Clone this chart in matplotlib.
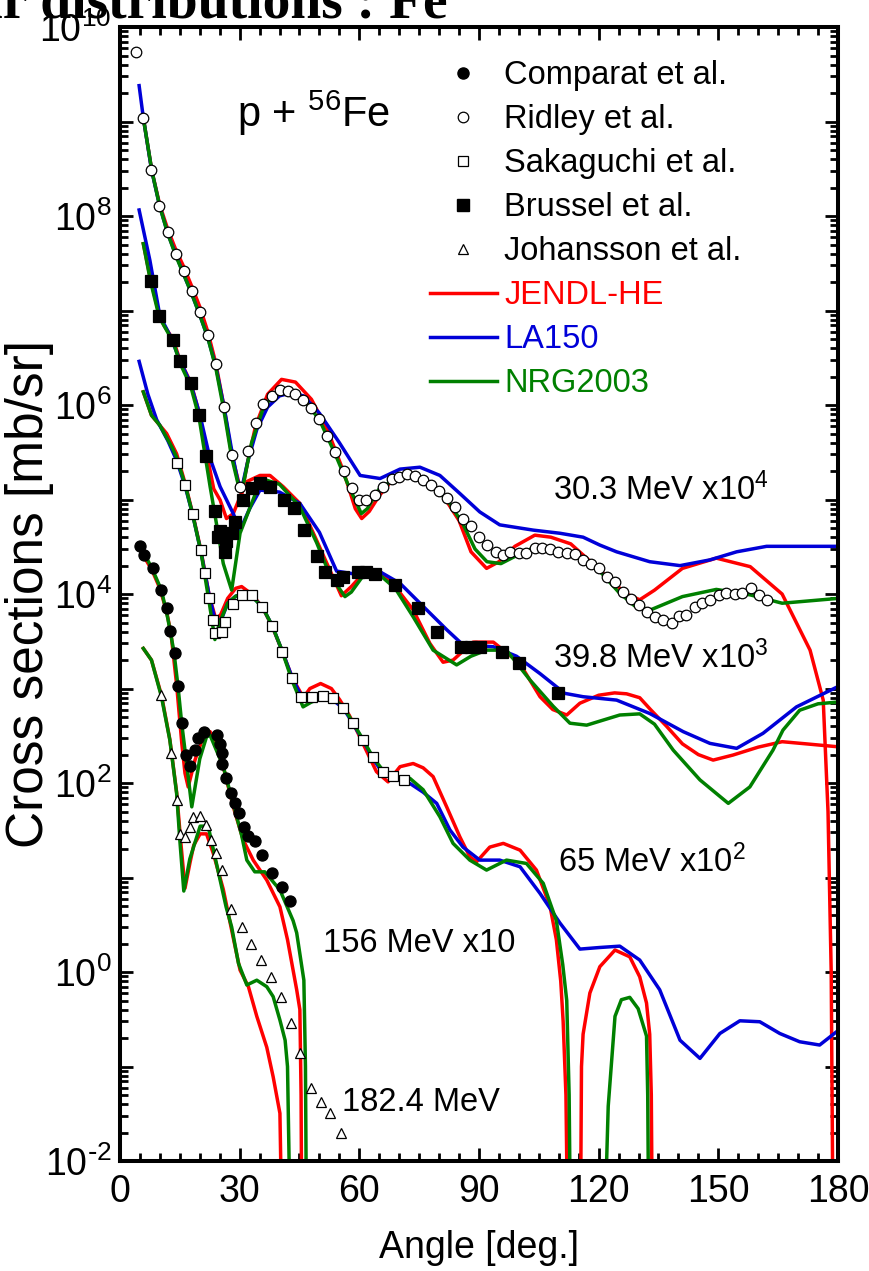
import math

import matplotlib
matplotlib.use("Agg")
import matplotlib.pyplot as plt
from matplotlib import font_manager
from matplotlib.lines import Line2D
from matplotlib.ticker import LogLocator, FuncFormatter, MultipleLocator, NullFormatter

_names = {f.name for f in font_manager.fontManager.ttflist}
NARROW = "Liberation Sans Narrow" if "Liberation Sans Narrow" in _names else "Liberation Sans"

plt.rcParams["font.family"] = ["Liberation Sans", "DejaVu Sans"]
plt.rcParams["mathtext.default"] = "regular"
plt.rcParams["axes.unicode_minus"] = False

RED, BLUE, GREEN = "#ff0000", "#0000d8", "#008000"

# ---- experimental data (angle [deg], cross section [mb/sr], already scaled) ----
# Ridley et al., 30.3 MeV x1e4
ridley_ang = [3.9, 5.85, 7.9, 9.9, 12.0, 14.0, 16.0, 18.0, 20.0, 22.0, 24.0, 26.1, 28.1, 30.1,
              32.2, 34.0, 35.9, 38.0, 40.1, 42.0, 44.0, 45.9, 47.9, 49.9, 52.0, 54.0, 56.1, 58.1,
              60.0, 61.8, 63.9, 66.0, 68.1, 70.0, 72.0, 73.9, 76.0, 77.9, 80.0, 81.9, 84.0, 86.0,
              88.1, 90.1, 92.1, 94.2, 96.1, 97.9, 100.1, 101.9, 104.0, 105.9, 107.9, 109.9, 112.0,
              114.0, 116.1, 118.2, 120.1, 122.1, 124.1, 126.1, 128.1, 130.2, 132.2, 134.1, 136.2,
              138.3, 140.1, 142.0, 144.1, 146.0, 148.0, 150.1, 152.0, 154.1, 156.0, 158.1, 160.2, 162.1]
ridley_xs = [5.4e9, 1.08e9, 3.1e8, 1.28e8, 6.8e7, 4.0e7, 2.6e7, 1.6e7, 9.7e6, 5.5e6, 2.7e6, 9.6e5,
             2.96e5, 1.35e5, 3.26e5, 6.4e5, 1.02e6, 1.24e6, 1.44e6, 1.41e6, 1.30e6, 1.13e6, 9.2e5,
             7.1e5, 4.7e5, 3.2e5, 2.0e5, 1.32e5, 9.9e4, 1.0e5, 1.12e5, 1.37e5, 1.64e5, 1.74e5, 1.86e5,
             1.77e5, 1.61e5, 1.42e5, 1.24e5, 1.03e5, 8.4e4, 6.3e4, 5.2e4, 4.0e4, 3.3e4, 2.8e4, 2.6e4,
             2.76e4, 2.7e4, 2.7e4, 3.05e4, 3.1e4, 3.0e4, 2.8e4, 2.7e4, 2.65e4, 2.3e4, 2.1e4, 1.87e4,
             1.52e4, 1.35e4, 1.06e4, 8.8e3, 7.7e3, 6.5e3, 5.7e3, 5.3e3, 5.0e3, 5.8e3, 6.0e3, 7.3e3,
             8.0e3, 8.6e3, 9.8e3, 1.03e4, 1.0e4, 1.03e4, 1.15e4, 9.8e3, 8.6e3]

# Brussel et al., 39.8 MeV x1e3
brussel_ang = [7.7, 9.85, 13.4, 15.0, 17.7, 19.8, 21.6, 23.8, 24.6, 25.1, 26.3, 26.7, 28.0, 28.8,
               30.9, 33.0, 35.1, 37.6, 41.1, 43.7, 46.2, 49.3, 51.4, 54.3, 56.0, 59.7, 61.8, 63.9,
               68.9, 74.8, 79.4, 85.6, 88.1, 90.2, 95.7, 100.1, 109.9]
brussel_xs = [2.05e7, 8.7e6, 4.9e6, 2.9e6, 1.7e6, 7.8e5, 2.9e5, 7.5e4, 4.0e4, 4.7e4, 2.8e4, 3.6e4,
              4.4e4, 5.8e4, 9.9e4, 1.32e5, 1.5e5, 1.36e5, 1.0e5, 8.1e4, 4.8e4, 2.5e4, 1.72e4, 1.4e4,
              1.52e4, 1.72e4, 1.72e4, 1.63e4, 1.25e4, 7.1e3, 4.0e3, 2.77e3, 2.77e3, 2.77e3, 2.45e3,
              1.88e3, 890]

# Sakaguchi et al., 65 MeV x1e2
sakaguchi_ang = [14.2, 16.3, 18.2, 20.3, 21.4, 22.4, 23.4, 23.8, 25.5, 26.3, 28.4, 30.5, 33.0, 35.7,
                 38.2, 40.5, 43.2, 45.5, 48.2, 50.8, 53.3, 56.0, 58.5, 61.0, 63.5, 66.0, 68.5, 71.2]
sakaguchi_xs = [2.45e5, 1.42e5, 7.1e4, 2.9e4, 1.66e4, 9.1e3, 5.3e3, 3.9e3, 4.0e3, 5.1e3, 7.8e3, 9.8e3,
                9.8e3, 7.3e3, 4.6e3, 2.45e3, 1.28e3, 820, 810, 830, 790, 630, 435, 285, 190, 132, 119, 109]

# Comparat et al., 156 MeV x10
comparat_ang = [5.0, 6.0, 8.2, 10.4, 11.7, 12.5, 13.8, 14.5, 15.5, 16.5, 17.5, 18.8, 19.6, 21.1, 24.4,
                25.2, 25.6, 25.7, 26.6, 27.8, 28.8, 29.9, 31.1, 32.2, 33.8, 35.5, 38.2, 40.5, 42.6]
comparat_xs = [3.2e4, 2.6e4, 1.87e4, 1.1e4, 7.2e3, 4.1e3, 2.36e3, 1.07e3, 429, 198, 151, 223, 297, 350,
               322, 257, 206, 159, 112, 79, 62, 48, 34, 27.5, 24.5, 17.3, 11.1, 8.0, 5.6]

# Johansson et al., 182.4 MeV
johansson_ang = [10.2, 12.7, 14.2, 15.0, 16.3, 17.5, 18.4, 20.1, 21.6, 22.8, 24.0, 25.5, 27.8, 30.5,
                 32.8, 35.3, 37.8, 40.3, 42.8, 45.1, 47.8, 50.3, 52.6, 55.3]
johansson_xs = [853, 206, 66, 29, 27, 34.5, 44, 45, 36, 25, 18, 12, 4.7, 3.0, 2.0, 1.33, 0.89, 0.55,
                0.29, 0.14, 0.059, 0.042, 0.032, 0.020]

# ---- evaluated data ----
jendl_303_ang = [6.0, 8, 10, 12, 14, 16, 18, 20, 22, 24, 26, 28, 30.5, 32, 34, 37, 40.5, 44, 48, 52, 56,
                 59, 60.6, 62.5, 65, 69, 73, 77, 81, 85, 88, 91.9, 95, 99, 104, 108, 113, 118, 123, 127,
                 130.3, 134, 141, 149.5, 158, 166, 173, 176.3, 177.5, 178.3, 178.8]
jendl_303_xs = [1.0e9, 3.0e8, 1.3e8, 7.2e7, 4.4e7, 2.9e7, 1.8e7, 1.1e7, 6.0e6, 2.8e6, 1.0e6, 3.0e5,
                1.15e5, 2.5e5, 6.0e5, 1.3e6, 1.87e6, 1.75e6, 1.15e6, 5.5e5, 2.0e5, 8.0e4, 6.3e4, 7.5e4,
                1.1e5, 1.75e5, 1.9e5, 1.6e5, 1.1e5, 6.0e4, 2.8e4, 1.87e4, 2.2e4, 3.2e4, 4.2e4, 4.0e4,
                3.4e4, 2.2e4, 1.4e4, 1.0e4, 8.7e3, 1.1e4, 1.87e4, 2.4e4, 1.95e4, 1.0e4, 2.55e3, 755,
                50, 1, 1e-3]
la150_303_ang = [4.8, 5.85, 7.9, 9.9, 12, 14, 16, 18, 20, 22, 24, 26, 28.2, 29.5, 30.5, 32, 34.3, 37,
                 40, 43, 46, 50, 55, 60.2, 65.2, 70.2, 75.2, 80.2, 85.2, 90.2, 95.2, 103.6, 110.3,
                 116.1, 120.3, 124.5, 132.8, 140.4, 147.9, 154.6, 162.1, 180]
la150_303_xs = [2.4e9, 1.1e9, 3.1e8, 1.3e8, 6.5e7, 3.9e7, 2.4e7, 1.5e7, 9.0e6, 5.2e6, 2.6e6, 1.0e6,
                3.0e5, 1.6e5, 1.3e5, 2.5e5, 5.5e5, 9.5e5, 1.25e6, 1.35e6, 1.25e6, 8.2e5, 4.0e5, 1.8e5,
                1.67e5, 2.1e5, 2.2e5, 1.8e5, 1.16e5, 7.4e4, 5.4e4, 4.75e4, 4.4e4, 4.0e4, 3.3e4, 2.8e4,
                2.2e4, 2.0e4, 2.3e4, 2.8e4, 3.2e4, 3.2e4]
nrg_303_ang = [6.0, 8, 10, 12, 14, 16, 18, 20, 22, 24, 26, 28, 30, 31, 33, 36, 40, 43, 46, 50, 54, 57,
               60.5, 62, 65, 70, 74, 78, 82, 86, 89, 92, 95.5, 99, 103, 107, 112, 116, 120, 125, 129,
               133, 141, 149.5, 158, 166, 180]
nrg_303_xs = [1.0e9, 3.0e8, 1.25e8, 6.5e7, 3.8e7, 2.4e7, 1.5e7, 9.0e6, 5.2e6, 2.5e6, 9.0e5, 2.8e5,
              1.25e5, 1.5e5, 4.0e5, 9.5e5, 1.5e6, 1.45e6, 1.15e6, 7.0e5, 3.0e5, 1.5e5, 7.1e4, 8.0e4,
              1.3e5, 1.75e5, 1.78e5, 1.4e5, 1.0e5, 5.5e4, 3.0e4, 2.2e4, 2.1e4, 2.5e4, 3.0e4, 3.0e4,
              2.7e4, 2.3e4, 1.8e4, 1.05e4, 7.5e3, 6.8e3, 9.4e3, 1.12e4, 9.8e3, 8.0e3, 9.0e3]

jendl_398_ang = [5.85, 7.7, 9.85, 11, 13.4, 15, 17.7, 19.8, 21.6, 23.5, 25.1, 26.7, 28.4, 30.1, 31.8,
                 35.1, 37.6, 40.9, 45.1, 49.3, 52.6, 55.5, 58, 61.8, 65.2, 69, 73.5, 77.7, 81, 83.5,
                 88.5, 93.6, 100.2, 105.3, 108.5, 112, 115.3, 120, 124, 127, 130.3, 133, 137, 141, 145,
                 148.7, 153.7, 160, 166, 172, 180]
jendl_398_xs = [5.1e7, 2.1e7, 9.0e6, 7.0e6, 4.9e6, 3.0e6, 1.75e6, 8.5e5, 3.3e5, 1.3e5, 9.9e4, 6.3e4,
                7.1e4, 1.07e5, 1.55e5, 1.8e5, 1.8e5, 1.37e5, 9.1e4, 3.7e4, 1.8e4, 9.6e3, 1.2e4, 1.8e4,
                1.72e4, 1.2e4, 6.8e3, 3.0e3, 1.9e3, 2.0e3, 3.1e3, 3.1e3, 1.85e3, 820, 600, 525, 700,
                850, 900, 880, 800, 600, 400, 260, 200, 175, 198, 240, 274, 260, 242]
la150_398_ang = [4.8, 7.5, 10, 12.5, 15, 17.7, 20, 22.5, 25.1, 28.4, 30.1, 32.5, 35.1, 40, 45.1, 50,
                 54.3, 60, 65.2, 70.2, 76.9, 81.9, 86, 93.6, 99.4, 105.3, 111.5, 116.1, 124.5, 132.8,
                 141.2, 147.9, 154.6, 161.2, 169.6, 180]
la150_398_xs = [1.16e8, 3.4e7, 8.8e6, 5.5e6, 3.0e6, 1.7e6, 8.0e5, 2.8e5, 1.37e5, 7.1e4, 4.75e4, 8.0e4,
                1.26e5, 1.2e5, 9.1e4, 4.5e4, 1.75e4, 1.6e4, 1.72e4, 1.3e4, 6.8e3, 4.2e3, 2.9e3, 2.77e3,
                2.2e3, 1.44e3, 890, 820, 755, 545, 350, 263, 233, 336, 640, 1.05e3]
nrg_398_ang = [5.85, 7.7, 9.85, 13.4, 15, 17.7, 19.8, 22.6, 25.9, 28, 30.1, 34.3, 36.8, 40, 45, 49.3,
               52.6, 56.4, 58, 61.8, 65.2, 69, 73.5, 78.5, 84.4, 88, 91.9, 96.9, 102.8, 108.6, 112.8,
               117, 125.3, 130.3, 134, 138.7, 145.4, 152.5, 157.9, 163.7, 166.2, 170.4, 175, 180]
nrg_398_xs = [5.1e7, 2.0e7, 8.5e6, 4.6e6, 2.8e6, 1.6e6, 7.5e5, 1.37e5, 2.1e4, 1.1e4, 4.4e4, 1.26e5,
              1.6e5, 1.45e5, 8.5e4, 3.5e4, 1.6e4, 9.4e3, 1.05e4, 1.75e4, 1.58e4, 1.15e4, 5.75e3, 2.55e3,
              1.78e3, 2.2e3, 2.55e3, 2.55e3, 1.23e3, 650, 430, 410, 525, 540, 420, 223, 108, 61, 91,
              223, 363, 590, 690, 720]

jendl_65_ang = [5.85, 7.9, 10, 11.7, 14.2, 16.3, 18.2, 20.3, 22.4, 24, 25.2, 27, 29, 30.5, 33, 35.7,
                38.2, 40.5, 43.2, 46, 47.6, 50.3, 53, 55.1, 57.5, 59.7, 62, 64.3, 67.2, 70.2, 73.5, 76,
                78.5, 81.9, 85.2, 87.7, 89.4, 92.7, 96.1, 100.3, 104.4, 107.8, 109.4, 110.5, 111.1,
                111.8, 112.3, 115.4, 115.7, 116.1, 117.8, 120.3, 124.1, 127.8, 130.3, 132, 132.8, 133.2,
                133.5]
jendl_65_xs = [1.38e6, 7.8e5, 6.1e5, 5.0e5, 3.05e5, 1.5e5, 7.2e4, 2.9e4, 9.5e3, 5.5e3, 6.0e3, 9.0e3,
               1.15e4, 1.2e4, 1.0e4, 7.3e3, 4.5e3, 2.6e3, 1.3e3, 800, 1.0e3, 1.13e3, 1.0e3, 760, 520,
               336, 210, 132, 103, 149, 161, 145, 117, 56, 27, 16.6, 14.7, 21, 23, 19.5, 12, 5.0, 2.2,
               0.8, 0.3, 0.05, 1e-3, 1e-3, 0.1, 0.22, 0.6, 1.14, 1.71, 1.45, 0.89, 0.47, 0.22, 0.05,
               1e-3]
la150_65_ang = [4.8, 7, 9.2, 12, 14.2, 16.3, 18.2, 20.3, 22.4, 24, 25.5, 27, 29, 31, 33, 35.7, 38.2,
                40.5, 43.2, 45.5, 48, 50.5, 53.3, 56, 58.5, 61, 63.5, 66, 69, 72.7, 76, 79.4, 82.7, 86,
                90.2, 95.2, 100.3, 105.3, 110.3, 115.3, 120.3, 125.3, 130.3, 135.3, 140.4, 145.4, 150.4,
                155.4, 160.4, 165.4, 170.4, 175.4, 180]
la150_65_xs = [2.9e6, 1.3e6, 7.0e5, 4.2e5, 2.6e5, 1.4e5, 7.0e4, 2.8e4, 9.5e3, 5.0e3, 5.5e3, 8.0e3,
               9.5e3, 1.0e4, 9.6e3, 7.3e3, 4.6e3, 2.6e3, 1.3e3, 820, 760, 790, 760, 620, 420, 280, 180,
               125, 110, 99, 80, 61, 32, 21, 15.3, 15.3, 13, 6.8, 3.3, 1.75, 1.82, 1.88, 1.34, 0.65,
               0.19, 0.122, 0.224, 0.305, 0.298, 0.224, 0.183, 0.169, 0.24]
nrg_65_ang = [5.85, 7.9, 10, 13, 14.2, 16.3, 18.2, 20.3, 22.4, 23.8, 25, 27, 29, 31, 33, 35.7, 38.2,
              40.5, 43.2, 45.9, 48, 50.5, 53.4, 56, 58.5, 61, 63.5, 66, 69, 72.7, 76, 80.2, 83.5, 87.7,
              91.9, 96.9, 101.9, 106.1, 109.4, 111, 112, 112.6, 113, 121.5, 122, 122.4, 124.1, 125.7,
              127.8, 129.9, 132, 132.3, 132.6]
nrg_65_xs = [1.38e6, 7.8e5, 6.1e5, 3.6e5, 2.8e5, 1.45e5, 7.0e4, 2.8e4, 8.0e3, 3.3e3, 5.0e3, 8.0e3,
             9.5e3, 1.0e4, 9.5e3, 7.3e3, 4.6e3, 2.6e3, 1.2e3, 640, 720, 790, 790, 640, 430, 285, 185,
             135, 118, 112, 85, 44, 23, 15.3, 12, 15.3, 14.1, 8.7, 3.5, 1.2, 0.5, 0.05, 1e-3, 1e-3,
             0.01, 0.038, 0.34, 0.51, 0.54, 0.41, 0.21, 0.05, 1e-3]

jendl_156_ang = [6.0, 8, 10, 11.7, 12.8, 14.2, 15.5, 16.3, 17.1, 18.8, 20.9, 22.6, 25.9, 28.4, 30.9,
                 33.4, 36.8, 40.1, 42, 44.3, 45.1, 45.4, 45.6]
jendl_156_xs = [2.5e4, 1.8e4, 1.15e4, 6.5e3, 3.8e3, 1.1e3, 263, 127, 91, 175, 309, 350, 149, 56, 25,
                15.3, 9.4, 4.9, 2.2, 0.65, 0.40, 0.05, 1e-3]
nrg_156_ang = [6.7, 8.2, 10.4, 12, 13.5, 14.5, 15.5, 16.5, 18.0, 20, 21.7, 22.6, 25.9, 28.4, 30.5, 31.8,
               33.8, 36.3, 40.1, 43.4, 44.3, 46.1, 46.5, 46.8]
nrg_156_xs = [2.4e4, 1.8e4, 1.1e4, 5.5e3, 2.5e3, 1.1e3, 420, 190, 56, 180, 309, 320, 149, 60, 28, 15.3,
              11.5, 11.5, 7.4, 3.5, 2.6, 0.82, 0.1, 1e-3]

jendl_182_ang = [5.85, 7.9, 10.4, 12.5, 14.2, 15.2, 16.3, 17.5, 18.5, 20.1, 21.7, 23.4, 25.9, 28.4,
                 30.1, 32.2, 34.3, 36.8, 38.4, 40.1, 40.3, 40.4]
jendl_182_xs = [2.66e3, 2.0e3, 850, 290, 80, 25, 7.7, 14, 22, 29, 29, 18, 7.5, 2.3, 1.05, 0.7, 0.34,
                0.16, 0.078, 0.032, 0.01, 1e-3]
nrg_182_ang = [5.85, 7.9, 10.4, 12.5, 14.2, 15.0, 16.0, 17.5, 20.1, 22.1, 24.2, 26.6, 28.0, 29.7, 31.8,
               34.3, 36.8, 38.4, 40.1, 41.4, 42.0, 42.4, 42.6]
nrg_182_xs = [2.66e3, 2.0e3, 820, 285, 78, 25, 7.2, 15.7, 35, 35, 14, 4.9, 3.0, 1.24, 0.73, 0.82, 0.70,
              0.55, 0.31, 0.19, 0.1, 0.01, 1e-3]

fig = plt.figure(figsize=(8.7, 12.71), dpi=100)
ax = fig.add_axes([0.1379, 0.0865, 0.8253, 0.8922])

lw = 2.5
for a, s in [(jendl_303_ang, jendl_303_xs), (jendl_398_ang, jendl_398_xs), (jendl_65_ang, jendl_65_xs),
             (jendl_156_ang, jendl_156_xs), (jendl_182_ang, jendl_182_xs)]:
    ax.plot(a, s, color=RED, lw=lw, zorder=2)
for a, s in [(la150_303_ang, la150_303_xs), (la150_398_ang, la150_398_xs), (la150_65_ang, la150_65_xs)]:
    ax.plot(a, s, color=BLUE, lw=lw, zorder=2.1)
for a, s in [(nrg_303_ang, nrg_303_xs), (nrg_398_ang, nrg_398_xs), (nrg_65_ang, nrg_65_xs),
             (nrg_156_ang, nrg_156_xs), (nrg_182_ang, nrg_182_xs)]:
    ax.plot(a, s, color=GREEN, lw=lw, zorder=2.2)

mew = 0.9
ax.plot(comparat_ang, comparat_xs, ls="none", marker="o", ms=8, mfc="k", mec="k", mew=mew, zorder=3)
ax.plot(ridley_ang, ridley_xs, ls="none", marker="o", ms=7.6, mfc="w", mec="k", mew=mew, zorder=3)
ax.plot(sakaguchi_ang, sakaguchi_xs, ls="none", marker="s", ms=7.8, mfc="w", mec="k", mew=mew, zorder=3)
ax.plot(brussel_ang, brussel_xs, ls="none", marker="s", ms=9, mfc="k", mec="k", mew=mew, zorder=3)
ax.plot(johansson_ang, johansson_xs, ls="none", marker="^", ms=7.4, mfc="w", mec="k", mew=mew, zorder=3)

ax.set_xlim(0, 180)
ax.set_yscale("log")
ax.set_ylim(1e-2, 1e10)

ax.xaxis.set_major_locator(MultipleLocator(30))
ax.xaxis.set_minor_locator(MultipleLocator(5))
ax.yaxis.set_major_locator(LogLocator(base=10, numticks=30))
ax.yaxis.set_minor_locator(LogLocator(base=10, subs=range(2, 10), numticks=30))
ax.yaxis.set_minor_formatter(NullFormatter())


def _ylab(v, pos):
    # every second decade is labelled; plain hyphen for negative exponents
    e = int(round(math.log10(v)))
    if e % 2:
        return ""
    exp = r"\text{-}%d" % -e if e < 0 else "%d" % e
    return r"$\mathdefault{10^{%s}}$" % exp


ax.yaxis.set_major_formatter(FuncFormatter(_ylab))

ax.tick_params(which="both", direction="in", top=True, right=True, width=2.0)
ax.tick_params(which="major", length=9.5)
ax.tick_params(which="minor", length=5.5)
ax.tick_params(axis="x", which="major", pad=9)
ax.tick_params(axis="y", which="major", pad=6)
for lab in ax.get_xticklabels() + ax.get_yticklabels():
    lab.set_fontfamily(NARROW)
    lab.set_fontsize(27)
for sp in ax.spines.values():
    sp.set_linewidth(2.9)

ax.set_xlabel("Angle [deg.]", fontsize=27, fontfamily=NARROW)
ax.xaxis.set_label_coords(0.5, -0.061)
ax.set_ylabel("Cross sections [mb/sr]", fontsize=37)
ax.yaxis.set_label_coords(-0.092, 0.5)

# energy labels
lab_fs = 23.5
ax.text(108.5, 9.9e4, r"30.3 MeV x$\mathdefault{10^{4}}$", fontsize=lab_fs, va="baseline")
ax.text(108.5, 1.65e3, r"39.8 MeV x$\mathdefault{10^{3}}$", fontsize=lab_fs, va="baseline")
ax.text(109.8, 11.4, r"65 MeV x$\mathdefault{10^{2}}$", fontsize=lab_fs, va="baseline")
ax.text(50.9, 1.63, "156 MeV x10", fontsize=lab_fs, va="baseline")
ax.text(55.6, 0.0338, "182.4 MeV", fontsize=lab_fs, va="baseline")
ax.text(29.3, 8.75e8, r"p + $\mathdefault{^{56}}$Fe", fontsize=30, va="baseline")

handles = [
    Line2D([], [], ls="none", marker="o", ms=8, mfc="k", mec="k"),
    Line2D([], [], ls="none", marker="o", ms=7.6, mfc="w", mec="k", mew=mew),
    Line2D([], [], ls="none", marker="s", ms=7.8, mfc="w", mec="k", mew=mew),
    Line2D([], [], ls="none", marker="s", ms=8.5, mfc="k", mec="k"),
    Line2D([], [], ls="none", marker="^", ms=7.4, mfc="w", mec="k", mew=mew),
    Line2D([], [], color=RED, lw=lw),
    Line2D([], [], color=BLUE, lw=lw),
    Line2D([], [], color=GREEN, lw=lw),
]
labels = ["Comparat et al.", "Ridley et al.", "Sakaguchi et al.", "Brussel et al.",
          "Johansson et al.", "JENDL-HE", "LA150", "NRG2003"]
ax.legend(handles, labels, loc="upper left", bbox_to_anchor=(0.4318, 0.9709), frameon=False,
          fontsize=lab_fs, handlelength=2.05, handletextpad=0.22, labelspacing=0.4,
          borderpad=0, borderaxespad=0,
          labelcolor=["k"] * 5 + [RED, BLUE, GREEN])

fig.text(448 / 870, 1 - 18 / 1271, "Angular distributions : Fe", fontsize=40,
         fontfamily="Liberation Serif", fontweight="bold", ha="right", va="baseline")

fig.savefig("out.png", dpi=100)
